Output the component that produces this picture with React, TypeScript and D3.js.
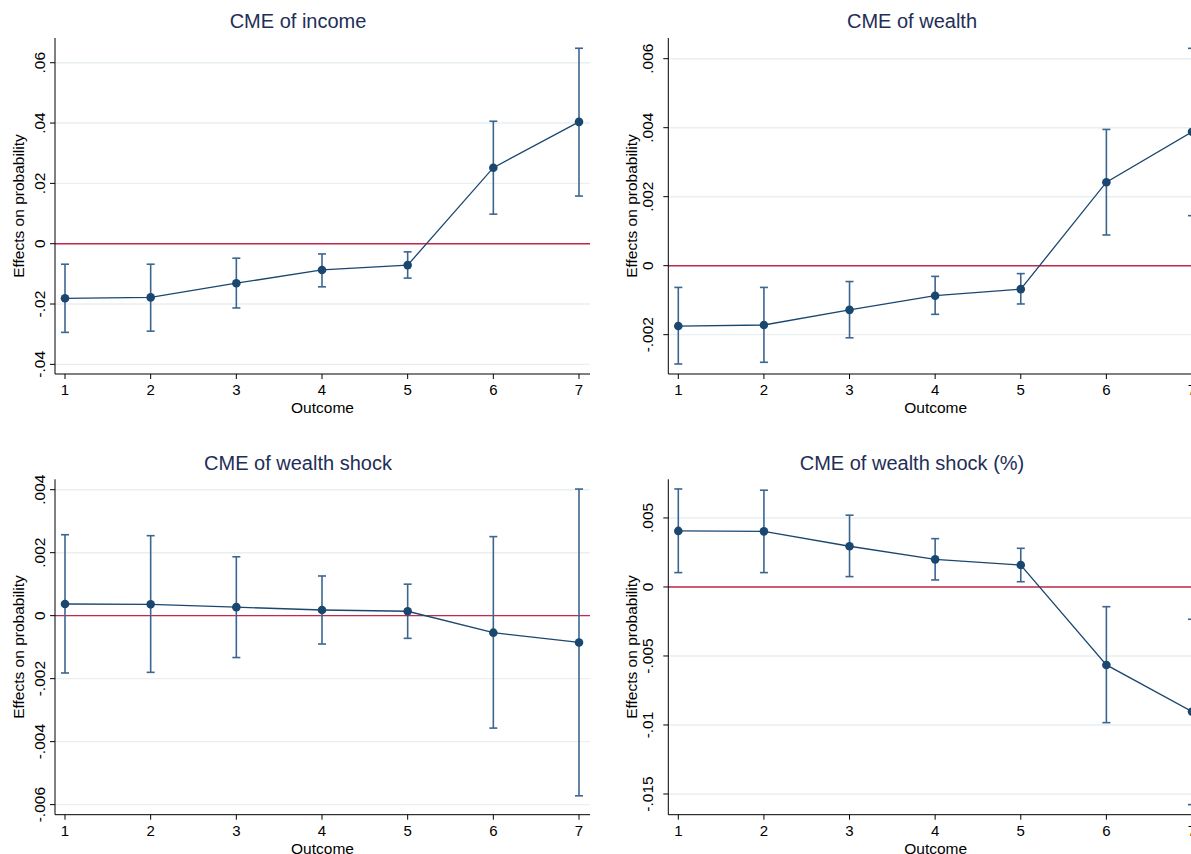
import React from "react";
import * as d3 from "d3";

const outcomes = [1, 2, 3, 4, 5, 6, 7];

const titles = ["CME of income", "CME of wealth", "CME of wealth shock", "CME of wealth shock (%)"];

const incomeEst = [-0.0181, -0.0178, -0.0131, -0.0087, -0.0071, 0.0252, 0.0404];
const incomeLo = [-0.0294, -0.029, -0.0213, -0.0143, -0.0114, 0.0098, 0.0158];
const incomeHi = [-0.0068, -0.0068, -0.0048, -0.0034, -0.0027, 0.0406, 0.0648];

const wealthEst = [-0.00175, -0.00172, -0.00128, -0.00087, -0.00068, 0.00242, 0.00388];
const wealthLo = [-0.00285, -0.0028, -0.00209, -0.00141, -0.00111, 0.00089, 0.00145];
const wealthHi = [-0.00063, -0.00063, -0.00046, -0.00031, -0.00023, 0.00395, 0.0063];

const shockEst = [0.00037, 0.00036, 0.00027, 0.00018, 0.00014, -0.00054, -0.00085];
const shockLo = [-0.00182, -0.0018, -0.00133, -0.0009, -0.00072, -0.00357, -0.00572];
const shockHi = [0.00257, 0.00254, 0.00187, 0.00126, 0.001, 0.00251, 0.00402];

const shockPctEst = [0.00406, 0.00403, 0.00295, 0.002, 0.00159, -0.00565, -0.00903];
const shockPctLo = [0.00104, 0.00104, 0.00075, 0.00051, 0.00038, -0.00983, -0.01577];
const shockPctHi = [0.0071, 0.00701, 0.0052, 0.0035, 0.0028, -0.00143, -0.00234];

const incomeTicks = [-0.04, -0.02, 0, 0.02, 0.04, 0.06];
const wealthTicks = [-0.002, 0, 0.002, 0.004, 0.006];
const shockTicks = [-0.006, -0.004, -0.002, 0, 0.002, 0.004];
const shockPctTicks = [-0.015, -0.01, -0.005, 0, 0.005];

const incomeDomain = [-0.0432, 0.0682];
const wealthDomain = [-0.00314, 0.0066];
const shockDomain = [-0.00632, 0.00433];
const shockPctDomain = [-0.0165, 0.0078];

const FONT = "'Liberation Sans', Arial, Helvetica, sans-serif";
const NAVY = "#1a476f";
const CI = "#3b6690";
const RED = "#c22a4d";
const GRID = "#e9f0f2";
const TITLE = "#1e2e57";

function fmt(v: number): string {
  if (Math.abs(v) < 1e-12) return "0";
  let s = String(+v.toPrecision(6));
  s = s.replace(/^0\./, ".").replace(/^-0\./, "-.");
  return s;
}

type PanelProps = {
  title: string;
  est: number[];
  lo: number[];
  hi: number[];
  ticks: number[];
  domain: number[];
  left: number;
  right: number;
  top: number;
  bottom: number;
  titleX: number;
  titleY: number;
  tickOff: number;
  ytitleX: number;
};

function Panel(p: PanelProps) {
  const x = d3.scaleLinear().domain([1, 7]).range([p.left + 10, p.right - 11]);
  const y = d3.scaleLinear().domain(p.domain).range([p.bottom, p.top]);
  const line = d3
    .line<number>()
    .x((_, i) => x(outcomes[i]))
    .y((d) => y(d));
  const capW = 4;
  return (
    <g>
      <text x={p.titleX} y={p.titleY} textAnchor="middle" fontSize={20} fill={TITLE} fontFamily={FONT}>
        {p.title}
      </text>
      {p.ticks.map((t) => (
        <line key={"g" + t} x1={p.left} x2={p.right} y1={y(t)} y2={y(t)} stroke={GRID} strokeWidth={1.4} />
      ))}
      <line x1={p.left} x2={p.right} y1={y(0)} y2={y(0)} stroke={RED} strokeWidth={1.4} />
      {/* y axis */}
      <line x1={p.left} x2={p.left} y1={p.top} y2={p.bottom} stroke="#000" strokeWidth={1} />
      {p.ticks.map((t) => (
        <g key={"t" + t}>
          <line x1={p.left - 5} x2={p.left} y1={y(t)} y2={y(t)} stroke="#000" strokeWidth={1} />
          <text
            transform={`translate(${p.left - p.tickOff},${y(t)}) rotate(-90)`}
            textAnchor="middle"
            fontSize={15.5}
            fill="#000"
            fontFamily={FONT}
          >
            {fmt(t)}
          </text>
        </g>
      ))}
      <text
        transform={`translate(${p.ytitleX},${(p.top + p.bottom) / 2}) rotate(-90)`}
        textAnchor="middle"
        dominantBaseline="central"
        fontSize={15.5}
        fill="#000"
        fontFamily={FONT}
      >
        Effects on probability
      </text>
      {/* x axis */}
      <line x1={p.left} x2={p.right} y1={p.bottom} y2={p.bottom} stroke="#000" strokeWidth={1} />
      {outcomes.map((o) => (
        <g key={"x" + o}>
          <line x1={x(o)} x2={x(o)} y1={p.bottom} y2={p.bottom + 5} stroke="#000" strokeWidth={1} />
          <text x={x(o)} y={p.bottom + 21} textAnchor="middle" fontSize={15} fill="#000" fontFamily={FONT}>
            {o}
          </text>
        </g>
      ))}
      <text x={(p.left + p.right) / 2} y={p.bottom + 39} textAnchor="middle" fontSize={15.5} fill="#000" fontFamily={FONT}>
        Outcome
      </text>
      {/* CIs */}
      {outcomes.map((o, i) => (
        <g key={"ci" + o} stroke={CI} strokeWidth={1.6}>
          <line x1={x(o)} x2={x(o)} y1={y(p.lo[i])} y2={y(p.hi[i])} />
          <line x1={x(o) - capW} x2={x(o) + capW} y1={y(p.lo[i])} y2={y(p.lo[i])} />
          <line x1={x(o) - capW} x2={x(o) + capW} y1={y(p.hi[i])} y2={y(p.hi[i])} />
        </g>
      ))}
      <path d={line(p.est) || ""} fill="none" stroke={NAVY} strokeWidth={1.3} />
      {outcomes.map((o, i) => (
        <circle key={"m" + o} cx={x(o)} cy={y(p.est[i])} r={4.3} fill={NAVY} />
      ))}
    </g>
  );
}

export default function App() {
  const L = { left: 55, right: 590, titleX: 298, tickOff: 10, ytitleX: 18.5 };
  const R = { left: 668.3, right: 1203, titleX: 912, tickOff: 15.5, ytitleX: 631.7 };
  const T = { top: 38, bottom: 374, titleY: 28 };
  const B = { top: 479.3, bottom: 814.7, titleY: 470 };
  return (
    <svg
      width={1191}
      height={854}
      style={{ position: "absolute", left: 0, top: 0, background: "#fff", overflow: "hidden" }}
    >
      <rect x={0} y={0} width={1191} height={854} fill="#fff" />
      <Panel title={titles[0]} est={incomeEst} lo={incomeLo} hi={incomeHi} ticks={incomeTicks} domain={incomeDomain} {...L} {...T} />
      <Panel title={titles[1]} est={wealthEst} lo={wealthLo} hi={wealthHi} ticks={wealthTicks} domain={wealthDomain} {...R} {...T} />
      <Panel title={titles[2]} est={shockEst} lo={shockLo} hi={shockHi} ticks={shockTicks} domain={shockDomain} {...L} {...B} />
      <Panel title={titles[3]} est={shockPctEst} lo={shockPctLo} hi={shockPctHi} ticks={shockPctTicks} domain={shockPctDomain} {...R} {...B} />
    </svg>
  );
}
